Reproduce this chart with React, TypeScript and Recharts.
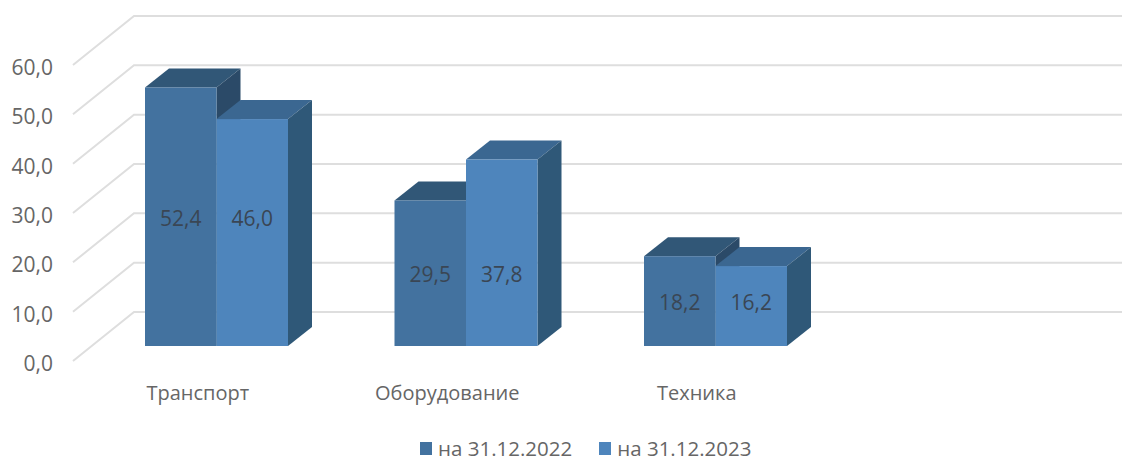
import React from "react";
import { BarChart, Bar, XAxis, YAxis, CartesianGrid, LabelList, Legend } from "recharts";

const categories = ["Транспорт", "Оборудование", "Техника", ""];
const values2022: (number | null)[] = [52.4, 29.5, 18.2, null];
const values2023: (number | null)[] = [46.0, 37.8, 16.2, null];
const yTicks = [0, 10, 20, 30, 40, 50, 60];
const seriesNames = ["на 31.12.2022", "на 31.12.2023"];

const chartData = categories.map((name, i) => ({
  name,
  a: values2022[i],
  b: values2023[i],
}));

const FONT = "'Open Sans', 'Noto Sans', sans-serif";
const DX = 24;
const DY = 19;
const palette2022 = { front: "#43729F", top: "#315777", side: "#2B4A68" };
const palette2023 = { front: "#4E85BC", top: "#3B6791", side: "#2F5878" };
const fmt = (v: number) => v.toFixed(1).replace(".", ",");

const makeShape = (c: { front: string; top: string; side: string }) => (p: any) => {
  const { x, y, width: w, height: h } = p;
  if (!h) return <g />;
  return (
    <g>
      <polygon points={`${x},${y} ${x + DX},${y - DY} ${x + w + DX},${y - DY} ${x + w},${y}`} fill={c.top} />
      <polygon points={`${x + w},${y} ${x + w + DX},${y - DY} ${x + w + DX},${y + h - DY} ${x + w},${y + h}`} fill={c.side} />
      <rect x={x} y={y} width={w} height={h} fill={c.front} />
    </g>
  );
};

// The reference centres both labels of a group on the height of the first bar.
const barLabel = (vals: (number | null)[]) => (p: any) => {
  const { x, y, width, height, index } = p;
  const own = vals[index];
  const ref = values2022[index];
  if (own == null || ref == null) return null;
  const unit = height / own;
  const bottom = y + height;
  return (
    <text
      x={x + width / 2}
      y={bottom - (ref * unit) / 2 + 1}
      textAnchor="middle"
      dominantBaseline="central"
      fontFamily={FONT}
      fontSize={21}
      fill="#3A4654"
    >
      {fmt(own)}
    </text>
  );
};

const GridLine = (p: any) => {
  const y = p.y1;
  return (
    <polyline
      points={`73,${y + 15} 134,${y - 34} 1122,${y - 34}`}
      fill="none"
      stroke="#DEDEDE"
      strokeWidth={2}
    />
  );
};

const YTick = (p: any) => (
  <text x={53} y={p.y + 17} textAnchor="end" dominantBaseline="central" fontFamily={FONT} fontSize={21} fill="#666666">
    {fmt(p.payload.value)}
  </text>
);

const XTick = (p: any) => (
  <text x={p.x - 19} y={392} textAnchor="middle" dominantBaseline="central" fontFamily={FONT} fontSize={20} fill="#666666">
    {p.payload.value}
  </text>
);

const LegendContent = (p: any) => (
  <div style={{ display: "flex", fontFamily: FONT, fontSize: 20.5, color: "#666666", lineHeight: "18px" }}>
    {(p.payload || []).map((e: any, i: number) => (
      <div key={i} style={{ display: "flex", alignItems: "center", marginRight: 27 }}>
        <span style={{ width: 12, height: 13, background: e.color, marginRight: 6, display: "inline-block" }} />
        <span>{e.value}</span>
      </div>
    ))}
  </div>
);

export default function App() {
  return (
    <div style={{ position: "absolute", left: 0, top: 0, width: 1122, height: 458, background: "#fff" }}>
      <BarChart
        width={1122}
        height={458}
        data={chartData}
        margin={{ left: 0, right: 32, top: 50, bottom: 0 }}
        barGap={0}
        barSize={71.5}
      >
        <CartesianGrid vertical={false} horizontal={GridLine as any} />
        <XAxis dataKey="name" axisLine={false} tickLine={false} tick={XTick as any} height={112} interval={0} />
        <YAxis domain={[0, 60]} ticks={yTicks} axisLine={false} tickLine={false} tick={YTick as any} width={92} />
        <Legend
          content={LegendContent as any}
          layout="horizontal"
          verticalAlign="middle"
          wrapperStyle={{ position: "absolute", left: 420, top: 439, width: 420, height: 18, bottom: "auto" }}
        />
        <Bar dataKey="a" name={seriesNames[0]} fill={palette2022.front} shape={makeShape(palette2022) as any} isAnimationActive={false}>
          <LabelList dataKey="a" content={barLabel(values2022) as any} />
        </Bar>
        <Bar dataKey="b" name={seriesNames[1]} fill={palette2023.front} shape={makeShape(palette2023) as any} isAnimationActive={false}>
          <LabelList dataKey="b" content={barLabel(values2023) as any} />
        </Bar>
      </BarChart>
    </div>
  );
}
